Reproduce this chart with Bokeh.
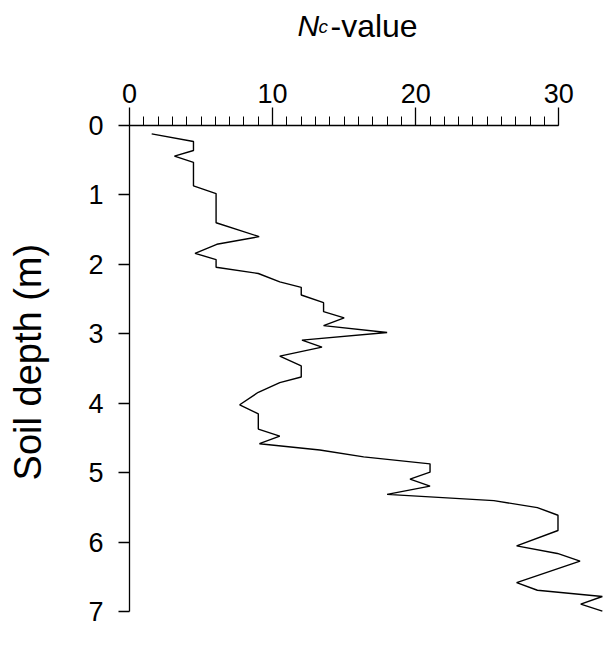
import math
from bokeh.plotting import figure
from bokeh.layouts import column, row
from bokeh.models import Range1d, LinearAxis, FixedTicker, ColumnDataSource
from bokeh.core.properties import value
from bokeh.embed import file_html
from bokeh.resources import INLINE

# N_c-value profile
nc_value = [1.55, 4.47, 4.47, 3.14, 4.47, 4.47, 6.05, 6.05, 9.06, 6.1, 4.58, 6.05, 6.05,
            9.0, 10.5, 12.0, 12.0, 13.56, 13.56, 15.0, 13.56, 18.0, 12.05, 13.45, 10.5,
            12.0, 12.0, 10.5, 9.0, 7.7, 9.0, 9.0, 10.5, 9.08, 13.3, 16.36, 21.0, 21.0,
            19.6, 21.0, 18.0, 25.46, 28.5, 29.94, 29.94, 27.05, 29.9, 31.48, 27.05,
            28.5, 33.04, 31.53, 33.04]
depth_m = [0.12, 0.23, 0.36, 0.44, 0.53, 0.87, 0.98, 1.40, 1.60, 1.71, 1.84, 1.93, 2.04,
           2.13, 2.25, 2.33, 2.44, 2.55, 2.68, 2.77, 2.88, 2.98, 3.09, 3.19, 3.32,
           3.46, 3.62, 3.70, 3.84, 4.02, 4.15, 4.37, 4.47, 4.58, 4.67, 4.77, 4.87, 4.99,
           5.09, 5.19, 5.31, 5.40, 5.50, 5.61, 5.83, 6.05, 6.16, 6.27, 6.58,
           6.69, 6.78, 6.89, 6.99]

x_ticks = [0, 10, 20, 30]
x_minor = list(range(0, 31))
y_ticks = [0, 1, 2, 3, 4, 5, 6, 7]

FONT = "Liberation Sans"
TITLE_H = 55
YLAB_W = 60
TOTAL_W = 603
TOTAL_H = 653


def blank(width, height):
    f = figure(width=width, height=height, output_backend="svg", toolbar_location=None,
               title=None, x_range=Range1d(0, width), y_range=Range1d(height, 0),
               x_axis_location=None, y_axis_location=None,
               min_border_left=0, min_border_right=0, min_border_top=0, min_border_bottom=0)
    f.outline_line_color = None
    f.xgrid.visible = False
    f.ygrid.visible = False
    f.background_fill_color = "white"
    f.border_fill_color = "white"
    return f


# ---- title strip: N_c-value ----
title_fig = blank(TOTAL_W, TITLE_H)
title_fig.text(x=[297], y=[25], text=["N"], text_font=value(FONT), text_font_style="italic",
               text_font_size="30px", text_align="left", text_baseline="alphabetic",
               text_color="black")
title_fig.text(x=[318], y=[26], text=["c"], text_font=value(FONT), text_font_style="italic",
               text_font_size="19px", text_align="left", text_baseline="alphabetic",
               text_color="black")
title_fig.text(x=[330], y=[25], text=["-value"], text_font=value(FONT),
               text_font_size="32px", text_align="left", text_baseline="alphabetic",
               text_color="black")

# ---- y label strip ----
main_h = TOTAL_H - TITLE_H
ylab_fig = blank(YLAB_W, main_h)
ylab_fig.text(x=[27], y=[323 - TITLE_H], text=["Soil depth (m)"], text_font=value(FONT),
              text_font_size="38px", angle=math.pi / 2, text_align="center",
              text_baseline="middle", text_color="black")

# ---- main plot ----
p = figure(width=TOTAL_W - YLAB_W, height=main_h, output_backend="svg",
           toolbar_location=None, title=None,
           x_range=Range1d(0, 33.12), y_range=Range1d(7.6, 0),
           x_axis_location=None, y_axis_location=None,
           min_border_left=129 - YLAB_W, min_border_right=0,
           min_border_top=125 - TITLE_H, min_border_bottom=0)
p.outline_line_color = None
p.xgrid.visible = False
p.ygrid.visible = False
p.background_fill_color = "white"
p.border_fill_color = "white"

xa = LinearAxis(ticker=FixedTicker(ticks=x_ticks, minor_ticks=x_minor), bounds=(0, 30))
xa.major_tick_out = 18
xa.major_tick_in = 0
xa.minor_tick_out = 9
xa.minor_tick_in = 0
xa.major_label_standoff = 5
xa.major_label_text_font = FONT
xa.major_label_text_font_size = "27px"
xa.major_label_text_color = "black"
xa.axis_line_color = "black"
xa.major_tick_line_color = "black"
xa.minor_tick_line_color = "black"
xa.axis_line_width = 1.3
xa.major_tick_line_width = 1.3
xa.minor_tick_line_width = 1
p.add_layout(xa, "above")

ya = LinearAxis(ticker=FixedTicker(ticks=y_ticks, minor_ticks=[]), bounds=(0, 7))
ya.major_tick_out = 11
ya.major_tick_in = 0
ya.minor_tick_out = 0
ya.minor_tick_in = 0
ya.major_label_standoff = 15
ya.major_label_text_font = FONT
ya.major_label_text_font_size = "27px"
ya.major_label_text_color = "black"
ya.axis_line_color = "black"
ya.major_tick_line_color = "black"
ya.axis_line_width = 1.3
ya.major_tick_line_width = 1.3
p.add_layout(ya, "left")

src = ColumnDataSource(dict(x=nc_value, y=depth_m))
p.line("x", "y", source=src, line_color="black", line_width=1.4)

layout = column(title_fig, row(ylab_fig, p, spacing=0), spacing=0)
open("out.html", "w").write(file_html(layout, INLINE))
